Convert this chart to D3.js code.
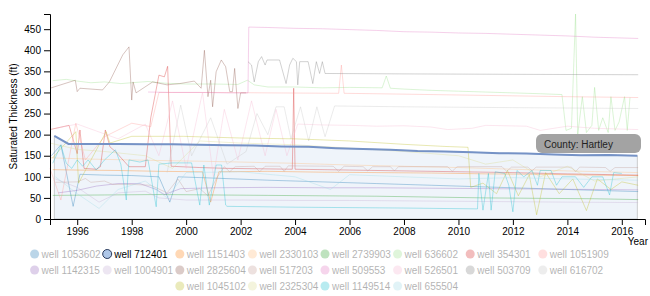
<!DOCTYPE html>
<html>
<head>
<meta charset="utf-8">
<script src="https://cdnjs.cloudflare.com/ajax/libs/d3/7.8.5/d3.min.js"></script>
<style>
  body { margin: 0; background: #fff; }
  svg { font-family: "Liberation Sans", Arial, Helvetica, sans-serif; }
  .axis text { font-size: 10px; fill: #000; }
  .well { fill: none; stroke-width: 1; stroke-opacity: 0.35; }
</style>
</head>
<body>
<div id="chart"></div>
<script>
// readings are [decimal year, saturated thickness (ft)]
const well1053602 = [[1995.05,150],[1995.4,176],[1995.85,30],[1996.1,106],[1997,104],[1998,103],[1999,100],[1999.4,40],[1999.7,100],[2001,97],[2003,92],[2005,88],[2007,84],[2009,80],[2011,76],[2013,72],[2015,68],[2016.6,65]];
const well712401 = [[1995.16,197],[1995.68,178],[1996.5,178],[1997.5,178],[1998.5,177],[1999.5,177],[2000.5,176],[2001.5,175],[2002.5,174],[2003.5,172],[2004.5,171],[2005.5,168],[2006.5,166],[2007.5,164],[2008.5,161],[2009.5,160],[2010.5,158],[2011.5,156],[2012.5,155],[2013.5,153],[2014.5,151],[2015.5,152],[2016.57,150]];
const well1151403 = [[1995.1,117],[1996,116],[1997.5,115],[1999,113],[2000.6,112],[2000.9,40],[2001.2,112],[2003,113],[2005,111],[2007,110],[2009,109],[2011,107],[2013,106],[2015,104],[2016.6,103]];
const well2330103 = [[1995,145],[1996.5,142],[1998,140],[1999.5,138],[2000.5,137],[2002,135],[2004,132],[2006,128],[2008,125],[2010,122],[2012,118],[2014,114],[2016.6,110]];
const well2739903 = [[1995.1,56],[1997,57],[1999,58],[2001,57],[2003,56],[2005,55],[2007,54],[2009,52],[2011,50],[2013,49],[2015,48],[2016.6,46]];
const well636602 = [[1995.1,328],[1995.6,331],[1996,327],[1996.5,323],[1997,325],[1997.6,321],[1998,323],[1998.6,326],[1999.2,322],[2000,320],[2001,320],[2001.9,319],[2002.25,329],[2002.5,318],[2003,313],[2004,313],[2005,311],[2006,312],[2007.2,311],[2007.35,339],[2007.5,310],[2008,308],[2009,305],[2010,303],[2011,301],[2012,299],[2013,297],[2013.8,295],[2013.95,210],[2014.15,215],[2014.3,486],[2014.38,200],[2014.55,290],[2014.7,205],[2014.9,222],[2015.0,312],[2015.15,210],[2015.3,240],[2015.5,205],[2015.6,290],[2015.75,210],[2015.9,230],[2016.1,290],[2016.2,210],[2016.3,288]];
const well354301 = [[1995.0,212],[1995.7,222],[1996.0,155],[1996.1,211],[1996.25,120],[1996.7,118],[1996.85,124],[1997.03,211],[1997.2,171],[1997.4,160],[1997.9,124],[1998.5,124],[1998.7,240],[1999.0,341],[1999.2,337],[1999.32,362],[1999.45,125],[2000.5,122],[2001.5,120],[2003.9,118],[2003.95,310],[2004.0,118],[2006,116],[2009,113],[2012,110],[2014,107],[2016.6,104]];
const well1051909 = [[1995.0,120],[1995.4,45],[1995.95,227],[1996.3,140],[1997,195],[1998,227],[1998.7,219],[1999,300],[2001,300],[2003,299],[2005.6,298],[2005.7,365],[2005.8,298],[2008,296],[2010,294],[2012,292],[2014,290],[2016.6,288]];
const well1142315 = [[1995.3,62],[1996,68],[1996.7,78],[1997.5,84],[1998.3,84],[1998.9,70],[1999.2,58],[1999.8,72],[2001,74],[2003,75],[2005,74],[2007,74],[2009,73],[2011,72],[2013,71],[2015,70],[2016.6,69]];
const well1004901 = [[1995.2,95],[1996,75],[1996.8,40],[1997.5,62],[1998.5,66],[1999,50],[2000,45],[2002,45],[2004,44],[2006,44],[2008,43],[2010,42],[2012,41],[2014,40],[2016.6,39]];
const well2825604 = [[1995.0,310],[1995.93,329],[1996.0,302],[1996.1,310],[1996.93,306],[1997.18,325],[1997.67,389],[1997.9,408],[1998.0,282],[1998.05,325],[1998.16,299],[1998.77,325],[1999.3,318],[1999.76,321],[2000.3,327],[2000.55,310],[2000.67,400],[2000.8,290],[2000.9,329],[2000.97,266],[2001.1,349],[2001.29,377],[2001.45,361],[2001.6,302],[2001.7,302],[2001.78,357],[2001.9,262],[2002.0,299],[2002.2,299]];
const well517203 = [[1995.2,87],[1996,88],[1996.3,96],[1996.5,87],[1997,90],[1997.3,82],[1998,82],[1998.7,80],[1999.3,62],[1999.7,95],[2000,65],[2000.5,72],[2000.8,55],[2001.1,95],[2001.4,124],[2001.6,112],[2001.8,124],[2002.5,125],[2002.7,112],[2002.9,125],[2003.45,125],[2003.6,113],[2003.75,126],[2005.4,125],[2005.6,113],[2005.8,125],[2006.5,124],[2006.67,114],[2006.85,124],[2007.5,124],[2007.65,114],[2007.8,124],[2009.6,124],[2009.77,113],[2009.95,124],[2011.6,124],[2011.77,113],[2011.95,123],[2012.55,123],[2012.7,114],[2012.85,123],[2014.15,123],[2014.3,112],[2014.45,123],[2015.4,122],[2015.57,113],[2015.75,122],[2016.6,122]];
const well509553 = [[1998.6,301],[1999.5,300],[2000.5,300],[2001.5,299],[2002.27,299],[2002.3,455],[2003,454],[2004,452],[2005,451],[2006,449],[2007,447],[2008,444],[2009,443],[2010,441],[2011,440],[2012,438],[2013,436],[2014,434],[2015,431],[2016.6,428]];
const well526501 = [[1995.2,215],[1996.0,225],[1997.5,190],[1998.5,225],[1999.0,150],[1999.5,280],[2000,120],[2000.6,300],[2001,100],[2001.4,260],[2001.9,140],[2002.4,280],[2002.9,150],[2003.3,260],[2003.7,150],[2004.1,225],[2005,223],[2006,222],[2007,220],[2008,221],[2009,218],[2009.6,212],[2010.5,215],[2011,222],[2012.5,220],[2013,210],[2014,220],[2015,215],[2016.6,212]];
const well503709 = [[2002.27,373],[2002.4,365],[2002.5,325],[2002.65,373],[2002.77,385],[2002.9,365],[2002.97,377],[2003.43,377],[2003.67,321],[2003.8,365],[2003.92,381],[2004.05,373],[2004.1,318],[2004.17,373],[2004.48,373],[2004.65,321],[2004.78,373],[2004.9,345],[2005.0,373],[2005.1,345],[2008,344],[2012,343],[2016.6,342]];
const well616702 = [[1999.3,110],[1999.8,270],[2000.2,150],[2000.9,240],[2001.5,130],[2002.2,160],[2002.6,250],[2003.0,200],[2003.3,266],[2003.6,266],[2003.85,190],[2004.2,266],[2004.5,185],[2004.8,266],[2005.1,195],[2005.45,268],[2008,266],[2012,264],[2016.6,262]];
const well1045102 = [[1995.1,145],[1995.95,207],[1996.05,85],[1997.06,207],[1997.2,180],[1998,196],[1999.9,196],[2000.4,195],[2002,192],[2004,190],[2006,185],[2008,177],[2009.5,172],[2010.35,170],[2010.45,75],[2010.9,85],[2011.4,60],[2011.8,115],[2012.2,55],[2012.6,105],[2012.87,10],[2013.2,110],[2013.7,60],[2014.2,95],[2014.7,20],[2015.1,95],[2015.6,70],[2016.0,88],[2016.6,80]];
const well2325304 = [[1995,180],[1996,165],[1997,160],[1998.5,150],[1999.5,120],[2000.5,185],[2002,180],[2004,176],[2006,168],[2008,160],[2010,150],[2011,130],[2012,140],[2013,100],[2014,125],[2015,90],[2016.6,100]];
const well1149514 = [[1995.1,132],[1995.4,175],[1995.6,132],[1995.8,120],[1996.0,140],[1996.2,125],[1996.4,140],[1996.7,116],[1997.0,140],[1997.4,164],[1997.6,130],[1997.8,45],[1997.9,140],[1998.3,135],[1998.6,140],[1998.9,29],[1999.0,130],[1999.5,133],[2000.2,133],[2000.5,33],[2000.65,128],[2000.85,33],[2001.1,128],[2001.3,128],[2001.45,33],[2001.5,30],[2004,28],[2008,26],[2010.7,24],[2010.75,108],[2010.9,21],[2011.1,108],[2011.2,21],[2011.35,112],[2011.7,108],[2011.85,80],[2012.0,17],[2012.15,115],[2012.4,100],[2012.7,115],[2012.9,80],[2013.0,115],[2013.4,115],[2013.6,80],[2013.8,100],[2014.3,100],[2014.6,75],[2014.9,100],[2015.3,100],[2015.55,57],[2015.7,110],[2016.0,108]];
const well655504 = [[1995.2,100],[1996,60],[1996.8,25],[1997.5,70],[1998.5,90],[1999.3,50],[2000,110],[2002,112],[2004,100],[2005.3,70],[2006,105],[2008,100],[2010,95],[2012,98],[2014,95],[2016.6,92]];

const wellIds = ["1053602","712401","1151403","2330103","2739903","636602","354301","1051909",
                 "1142315","1004901","2825604","517203","509553","526501","503709","616702",
                 "1045102","2325304","1149514","655504"];
const wellValues = [well1053602, well712401, well1151403, well2330103, well2739903, well636602, well354301, well1051909,
                    well1142315, well1004901, well2825604, well517203, well509553, well526501, well503709, well616702,
                    well1045102, well2325304, well1149514, well655504];
const selectedWell = "712401";
const county = "Hartley";
const xDomain = [1995, 2016.85];

// category20 palette
const colors = ["#1f77b4","#aec7e8","#ff7f0e","#ffbb78","#2ca02c","#98df8a","#d62728","#ff9896",
                "#9467bd","#c5b0d5","#8c564b","#c49c94","#e377c2","#f7b6d2","#7f7f7f","#c7c7c7",
                "#bcbd22","#dbdb8d","#17becf","#9edae5"];

function toDate(y) {
  const yr = Math.floor(y);
  const start = new Date(yr, 0, 1), end = new Date(yr + 1, 0, 1);
  return new Date(+start + (y - yr) * (end - start));
}

const wells = wellIds.map((id, i) => ({
  id,
  color: colors[i],
  values: wellValues[i].map(d => ({ date: toDate(d[0]), value: d[1] }))
}));

const W = 650, H = 296;
const margin = { top: 14, right: 5, bottom: 77, left: 50 };
const width = W - margin.left - margin.right,
      height = H - margin.top - margin.bottom;

const svg = d3.select("#chart").append("svg")
    .attr("width", W)
    .attr("height", H);

const g = svg.append("g")
    .attr("transform", `translate(${margin.left},${margin.top})`);

const xScale = d3.scaleTime().domain(xDomain.map(toDate)).range([0, width]);
const yScale = d3.scaleLinear()
    .domain([0, d3.max(wells, w => d3.max(w.values, d => d.value))])
    .range([height, 0]);

const line = d3.line()
    .x(d => xScale(d.date))
    .y(d => yScale(d.value));

const area = d3.area()
    .x(d => xScale(d.date))
    .y0(height)
    .y1(d => yScale(d.value));

const selected = wells.find(w => w.id === selectedWell);

g.append("path")
    .datum(selected.values)
    .attr("d", area)
    .attr("fill", selected.color)
    .attr("fill-opacity", 0.2)
    .attr("stroke", "#999")
    .attr("stroke-opacity", 0.6)
    .attr("stroke-width", 0.8);

g.selectAll(".well")
  .data(wells.filter(w => w.id !== selectedWell))
  .join("path")
    .attr("class", "well")
    .attr("d", w => line(w.values))
    .attr("stroke", w => w.color);

g.append("path")
    .datum(selected.values)
    .attr("d", line)
    .attr("fill", "none")
    .attr("stroke", "#7592c6")
    .attr("stroke-width", 2);

g.append("g")
    .attr("class", "axis x-axis")
    .attr("transform", `translate(0,${height})`)
    .call(d3.axisBottom(xScale).tickFormat(d3.timeFormat("%Y")));

g.append("g")
    .attr("class", "axis y-axis")
    .call(d3.axisLeft(yScale));

g.selectAll(".axis path, .axis line").attr("stroke", "#000");

svg.append("text")
    .attr("transform", `translate(17,${margin.top + height / 2}) rotate(-90)`)
    .attr("text-anchor", "middle")
    .attr("font-size", 10)
    .text("Saturated Thickness (ft)");

svg.append("text")
    .attr("x", 648)
    .attr("y", 245)
    .attr("text-anchor", "end")
    .attr("font-size", 10)
    .text("Year");

// tooltip
const tip = svg.append("g").attr("transform", "translate(536,134)");
tip.append("rect")
    .attr("width", 105)
    .attr("height", 19)
    .attr("rx", 6)
    .attr("fill", "#a3a3a3");
tip.append("text")
    .attr("x", 8)
    .attr("y", 13.5)
    .attr("font-size", 10)
    .attr("fill", "#222")
    .text("County: " + county);

// legend, 8 per row, rows centered
const perRow = 8, colW = 72.6, rowH = 16;
const legend = svg.append("g");
wells.forEach((w, i) => {
  const row = Math.floor(i / perRow);
  const inRow = Math.min(perRow, wells.length - row * perRow);
  const col = i % perRow;
  const left = (W - inRow * colW) / 2;
  const item = legend.append("g")
      .attr("transform", `translate(${left + col * colW},${254 + row * rowH})`)
      .attr("opacity", w.id === selectedWell ? 1 : 0.3);
  item.append("circle")
      .attr("r", 4.5)
      .attr("fill", w.color)
      .attr("stroke", w.id === selectedWell ? "#2a3b5c" : "none");
  item.append("text")
      .attr("x", 7)
      .attr("dy", "0.35em")
      .attr("font-size", 10)
      .attr("fill", "#000")
      .text("well " + w.id);
});
</script>
</body>
</html>
